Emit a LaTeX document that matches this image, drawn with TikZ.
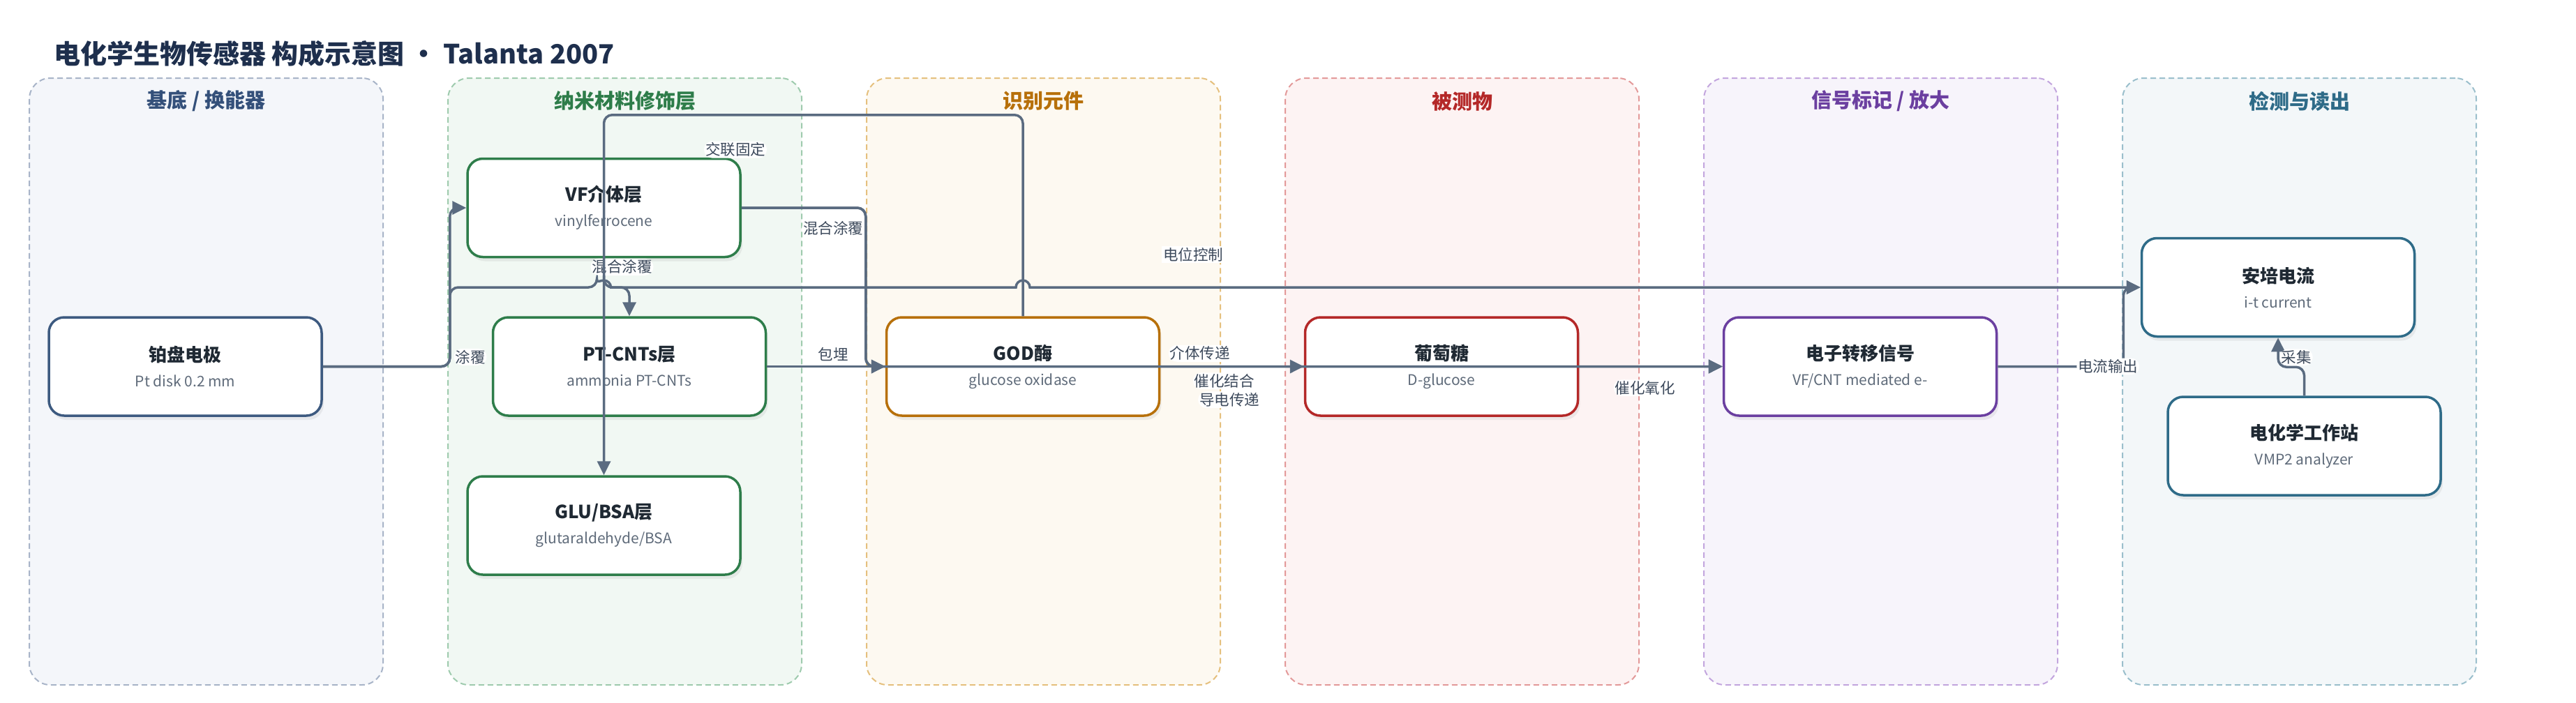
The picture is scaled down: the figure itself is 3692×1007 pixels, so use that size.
\documentclass[tikz,border=0pt]{standalone}
\usepackage{fontspec}
\setmainfont{Noto Sans CJK SC}
\usepackage{tikz}
\usetikzlibrary{arrows.meta,positioning,shadows,calc}

\definecolor{ink}{HTML}{1F2933}
\definecolor{subink}{HTML}{5F6B7A}
\definecolor{wire}{HTML}{5A6B80}
\definecolor{wiretext}{HTML}{3D4A5C}
\definecolor{headink}{HTML}{1E2F4D}
\definecolor{baseFill}{HTML}{F4F6FA}
\definecolor{baseLine}{HTML}{A8B4C8}
\definecolor{baseText}{HTML}{34507A}
\definecolor{baseNode}{HTML}{3D5A80}
\definecolor{nanoFill}{HTML}{F1F8F3}
\definecolor{nanoLine}{HTML}{9FCBAE}
\definecolor{nanoText}{HTML}{2E7D4A}
\definecolor{recFill}{HTML}{FDF9F1}
\definecolor{recLine}{HTML}{E5C07E}
\definecolor{recText}{HTML}{B7700A}
\definecolor{anaFill}{HTML}{FDF3F3}
\definecolor{anaLine}{HTML}{E39A9A}
\definecolor{anaText}{HTML}{B42828}
\definecolor{sigFill}{HTML}{F7F4FB}
\definecolor{sigLine}{HTML}{C3A6DE}
\definecolor{sigText}{HTML}{6B3FA0}
\definecolor{detFill}{HTML}{F3F7F9}
\definecolor{detLine}{HTML}{9BBFCC}
\definecolor{detText}{HTML}{2E6B88}

\newcommand{\blocktext}[2]{{\fontsize{26}{36}\selectfont\bfseries #1}\\{\color{subink}#2}}

\begin{document}
\begin{tikzpicture}[x=1pt,y=-1pt,>={Triangle[length=20pt,width=19pt]},node distance=205.5pt,
	lane/.style={rectangle,rounded corners=30pt,line width=2pt,dash pattern=on 8pt off 5pt,minimum width=507pt,minimum height=870pt},
	lanetitle/.style={font=\fontsize{29}{34}\selectfont\bfseries},
	block/.style={rectangle,rounded corners=22pt,line width=3.5pt,fill=white,text=ink,align=center,minimum width=391pt,minimum height=141pt,font=\fontsize{21}{36}\selectfont,drop shadow={shadow xshift=3pt,shadow yshift=-6pt,opacity=0.12}},
	flow/.style={->,draw=wire,line width=3.5pt,rounded corners=12pt},
	lbl/.style={fill=white,text=wiretext,inner sep=2pt,font=\fontsize{21.5}{24}\selectfont}]
	\useasboundingbox (0,0) rectangle (3692,1007);

	% lanes
	\node [lane, fill=baseFill, draw=baseLine]	(laneA)	at (295.5,547)	{};
	\node [lane, fill=nanoFill, draw=nanoLine]	(laneB)	at (895.5,547)	{};
	\node [lane, fill=recFill, draw=recLine]	(laneC)	at (1495.5,547)	{};
	\node [lane, fill=anaFill, draw=anaLine]	(laneD)	at (2095.5,547)	{};
	\node [lane, fill=sigFill, draw=sigLine]	(laneE)	at (2695.5,547)	{};
	\node [lane, fill=detFill, draw=detLine]	(laneF)	at (3295.5,547)	{};

	\node [lanetitle, text=baseText]	at (295.5,145)	{基底 / 换能器};
	\node [lanetitle, text=nanoText]	at (895.5,145)	{纳米材料修饰层};
	\node [lanetitle, text=recText]		at (1495.5,145)	{识别元件};
	\node [lanetitle, text=anaText]		at (2095.5,145)	{被测物};
	\node [lanetitle, text=sigText]		at (2695.5,145)	{信号标记 / 放大};
	\node [lanetitle, text=detText]		at (3295.5,145)	{检测与读出};

	\node [anchor=west, inner sep=0pt, text=headink, font=\fontsize{38}{44}\selectfont\bfseries]	(title)	at (77,77)	{电化学生物传感器 构成示意图 · Talanta 2007};

	% parts
	\node [block, draw=baseNode]	(pt)	at (265.5,525.5)	{\blocktext{铂盘电极}{Pt disk 0.2 mm}};
	\node [block, draw=nanoText]	(vf)	at (865.5,298)		{\blocktext{VF介体层}{vinylferrocene}};
	\node [block, draw=nanoText]	(cnt)	at (902,525.5)		{\blocktext{PT-CNTs层}{ammonia PT-CNTs}};
	\node [block, draw=nanoText]	(glu)	at (865.5,753.5)	{\blocktext{GLU/BSA层}{glutaraldehyde/BSA}};
	\node [block, draw=recText]		(god)	at (1466,525.5)		{\blocktext{GOD酶}{glucose oxidase}};
	\node [block, draw=anaText]		(glc)	[right=of god]		{\blocktext{葡萄糖}{D-glucose}};
	\node [block, draw=sigText]		(sig)	[right=of glc]		{\blocktext{电子转移信号}{VF/CNT mediated e-}};
	\node [block, draw=detText]		(amp)	at (3265,412)		{\blocktext{安培电流}{i-t current}};
	\node [block, draw=detText]		(ws)	at (3302.5,639.5)	{\blocktext{电化学工作站}{VMP2 analyzer}};

	% connections
	\draw [flow] (pt.east) -- ++(182,0) |- ($(vf.center |- amp.west)+(-10,0)$) [sharp corners] arc (180:360:10) -- ($(god.center |- amp.west)+(-10,0)$) arc (180:360:10) -- node [lbl, pos=0.147, above=33pt] {电位控制} (amp.west);
	\draw [flow] (pt.east) -- ++(182,0) node [lbl, anchor=south west, xshift=4pt] {涂覆} |- (vf.west);
	\draw [flow] (vf.south) -- node [lbl, pos=0.3, xshift=26pt] {混合涂覆} (vf.south |- amp.west) -| (cnt.north);
	\draw [flow] (god.north) |- node [lbl, pos=0.843, below=36pt] {交联固定} ($(vf.north)+(0,-61)$) -- (glu.north);
	\draw [flow] (vf.east) -- ++(178,0) node [lbl, anchor=north east, yshift=-16pt] {混合涂覆} |- (god.west);
	\draw [flow] (cnt.east) -- node [lbl, pos=0.56, above=4pt] {包埋} (god.west);
	\draw [flow] (vf.east) -- ++(178,0) |- node [lbl, pos=0.695, above=5pt] {介体传递} (sig.west);
	\draw [flow] (cnt.east) -- node [lbl, pos=0.484, below=34pt] {导电传递} (sig.west);
	\draw [flow] (god.east) -- node [lbl, pos=0.446, below=7pt] {催化结合} (glc.west);
	\draw [flow] (glc.east) -- node [lbl, pos=0.46, below=17pt] {催化氧化} (sig.west);
	\draw [flow] (sig.east) -- ++(180,0) node [lbl, xshift=-22pt] {电流输出} |- (amp.west);
	\draw [flow] (ws.north) -- ++(0,-41) -| node [lbl, pos=0.75, right=1pt, yshift=-7pt] {采集} (amp.south);
\end{tikzpicture}
\end{document}
